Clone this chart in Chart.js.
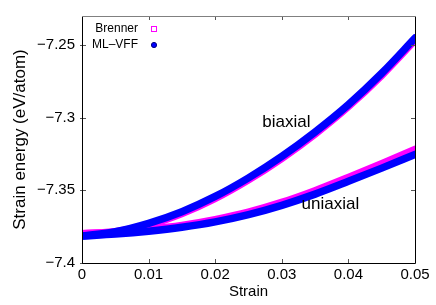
<!DOCTYPE html>
<html>
<head>
<meta charset="utf-8">
<script src="https://cdn.jsdelivr.net/npm/chart.js@4.4.1/dist/chart.umd.min.js"></script>
<style>
  html, body { margin: 0; padding: 0; background: #fff; }
  #wrap { width: 436px; height: 305px; }
</style>
</head>
<body>
<div id="wrap"><canvas id="strainChart" width="436" height="305"></canvas></div>
<script>
const strain = [0, 0.005, 0.01, 0.015, 0.02, 0.025, 0.03, 0.035, 0.04, 0.045, 0.05];
const mlBiaxial = [-7.3815, -7.3785, -7.3727, -7.3647, -7.3542, -7.3414, -7.3266, -7.3098, -7.2910, -7.2694, -7.2452];
const mlUniaxial = [-7.3815, -7.3801, -7.3781, -7.3754, -7.3717, -7.3667, -7.3603, -7.3526, -7.3438, -7.3347, -7.3253];
const brBiaxial = [-7.3798, -7.3785, -7.3738, -7.3660, -7.3556, -7.3428, -7.3280, -7.3112, -7.2923, -7.2708, -7.2466];
const brUniaxial = [-7.3798, -7.3788, -7.3768, -7.3741, -7.3701, -7.3650, -7.3583, -7.3502, -7.3411, -7.3317, -7.3219];

const xTicks = [0, 0.01, 0.02, 0.03, 0.04, 0.05];
const yTicks = [-7.4, -7.35, -7.3, -7.25];
const yTickLabels = ['\u22127.4', '\u22127.35', '\u22127.3', '\u22127.25'];

const legendItems = [
    { label: 'Brenner', color: '#ff00ff', shape: 'square' },
    { label: 'ML\u2013VFF', color: '#0000ff', shape: 'circle' }
];
const notes = [
    { text: 'biaxial', x: 0.0307, y: -7.3031 },
    { text: 'uniaxial', x: 0.0373, y: -7.3596 }
];

const FONT = 'Liberation Sans, Arial, Helvetica, sans-serif';

function pts(ys) {
    return strain.map((x, i) => ({ x: x, y: ys[i] }));
}

function series(ys, color, width, cap) {
    return {
        data: pts(ys),
        showLine: true,
        borderColor: color,
        backgroundColor: color,
        borderWidth: width,
        borderCapStyle: cap,
        borderJoinStyle: 'round',
        cubicInterpolationMode: 'monotone',
        pointRadius: 0,
        pointHoverRadius: 0
    };
}

const framePlugin = {
    id: 'frame',
    afterDraw(chart) {
        const ctx = chart.ctx;
        const a = chart.chartArea;
        const xs = chart.scales.x, ys = chart.scales.y;
        ctx.save();
        ctx.lineWidth = 1;
        // ticks
        ctx.strokeStyle = '#555';
        ctx.beginPath();
        xTicks.forEach(v => {
            const px = Math.round(xs.getPixelForValue(v)) + 0.5;
            ctx.moveTo(px, a.bottom); ctx.lineTo(px, a.bottom - 4);
            ctx.moveTo(px, a.top); ctx.lineTo(px, a.top + 4);
        });
        yTicks.forEach(v => {
            const py = Math.round(ys.getPixelForValue(v)) + 0.5;
            ctx.moveTo(a.left - 2, py); ctx.lineTo(a.left + 4, py);
            ctx.moveTo(a.right, py); ctx.lineTo(a.right - 4, py);
        });
        ctx.stroke();
        // border
        ctx.strokeStyle = '#000';
        ctx.beginPath();
        ctx.moveTo(Math.round(a.left) + 0.5, Math.round(a.top));
        ctx.lineTo(Math.round(a.left) + 0.5, Math.round(a.bottom) + 0.5);
        ctx.lineTo(Math.round(a.right) + 0.5, Math.round(a.bottom) + 0.5);
        ctx.lineTo(Math.round(a.right) + 0.5, Math.round(a.top));
        ctx.stroke();
        ctx.strokeStyle = '#808080';
        ctx.beginPath();
        ctx.moveTo(Math.round(a.left), Math.round(a.top) + 0.5);
        ctx.lineTo(Math.round(a.right) + 1, Math.round(a.top) + 0.5);
        ctx.stroke();

        // annotations
        ctx.fillStyle = '#000';
        ctx.font = '17px ' + FONT;
        ctx.textAlign = 'center';
        ctx.textBaseline = 'middle';
        notes.forEach(n => {
            ctx.fillText(n.text, xs.getPixelForValue(n.x), ys.getPixelForValue(n.y));
        });

        // legend (gnuplot style: text right-aligned, sample on the right)
        ctx.font = '12px ' + FONT;
        ctx.textAlign = 'right';
        legendItems.forEach((it, i) => {
            const ty = a.top + 13 + i * 16;
            ctx.fillStyle = '#000';
            ctx.fillText(it.label, a.left + 56, ty);
            if (it.shape === 'square') {
                ctx.strokeStyle = it.color;
                ctx.lineWidth = 1;
                ctx.strokeRect(a.left + 69.5, ty - 2.5, 5, 5);
            } else {
                ctx.fillStyle = it.color;
                ctx.strokeStyle = '#000080';
                ctx.beginPath();
                ctx.arc(a.left + 72, ty, 2.6, 0, Math.PI * 2);
                ctx.fill();
                ctx.stroke();
            }
        });
        ctx.restore();
    }
};

new Chart(document.getElementById('strainChart').getContext('2d'), {
    type: 'scatter',
    data: {
        datasets: [
            series(mlBiaxial, '#0000ff', 7.5, 'round'),
            series(mlUniaxial, '#0000ff', 7.5, 'round'),
            series(brBiaxial, '#ff00ff', 7.5, 'square'),
            series(brUniaxial, '#ff00ff', 7.5, 'square')
        ]
    },
    options: {
        responsive: false,
        animation: false,
        layout: { padding: { left: 0, right: 21, top: 10, bottom: 0 } },
        plugins: { legend: { display: false }, tooltip: { enabled: false } },
        scales: {
            x: {
                type: 'linear',
                min: 0,
                max: 0.05,
                afterBuildTicks(scale) { scale.ticks = xTicks.map(v => ({ value: v })); },
                afterFit(scale) { scale.height = 42; },
                grid: { display: false, drawTicks: false },
                border: { display: false },
                ticks: {
                    color: '#000',
                    padding: 3,
                    maxRotation: 0,
                    font: { family: FONT, size: 15 },
                    callback: v => String(v)
                },
                title: {
                    display: true,
                    text: 'Strain',
                    color: '#000',
                    font: { family: FONT, size: 15 },
                    padding: { top: 0, bottom: 4 }
                }
            },
            y: {
                type: 'linear',
                min: -7.4,
                max: -7.23,
                afterBuildTicks(scale) { scale.ticks = yTicks.map(v => ({ value: v })); },
                afterFit(scale) { scale.width = 82; },
                grid: { display: false, drawTicks: false },
                border: { display: false },
                ticks: {
                    color: '#000',
                    padding: 7,
                    font: { family: FONT, size: 15 },
                    callback: v => yTickLabels[yTicks.indexOf(v)]
                },
                title: {
                    display: true,
                    text: 'Strain energy (eV/atom)',
                    color: '#000',
                    font: { family: FONT, size: 17 },
                    padding: { top: 10, bottom: 0 }
                }
            }
        }
    },
    plugins: [framePlugin]
});
</script>
</body>
</html>
